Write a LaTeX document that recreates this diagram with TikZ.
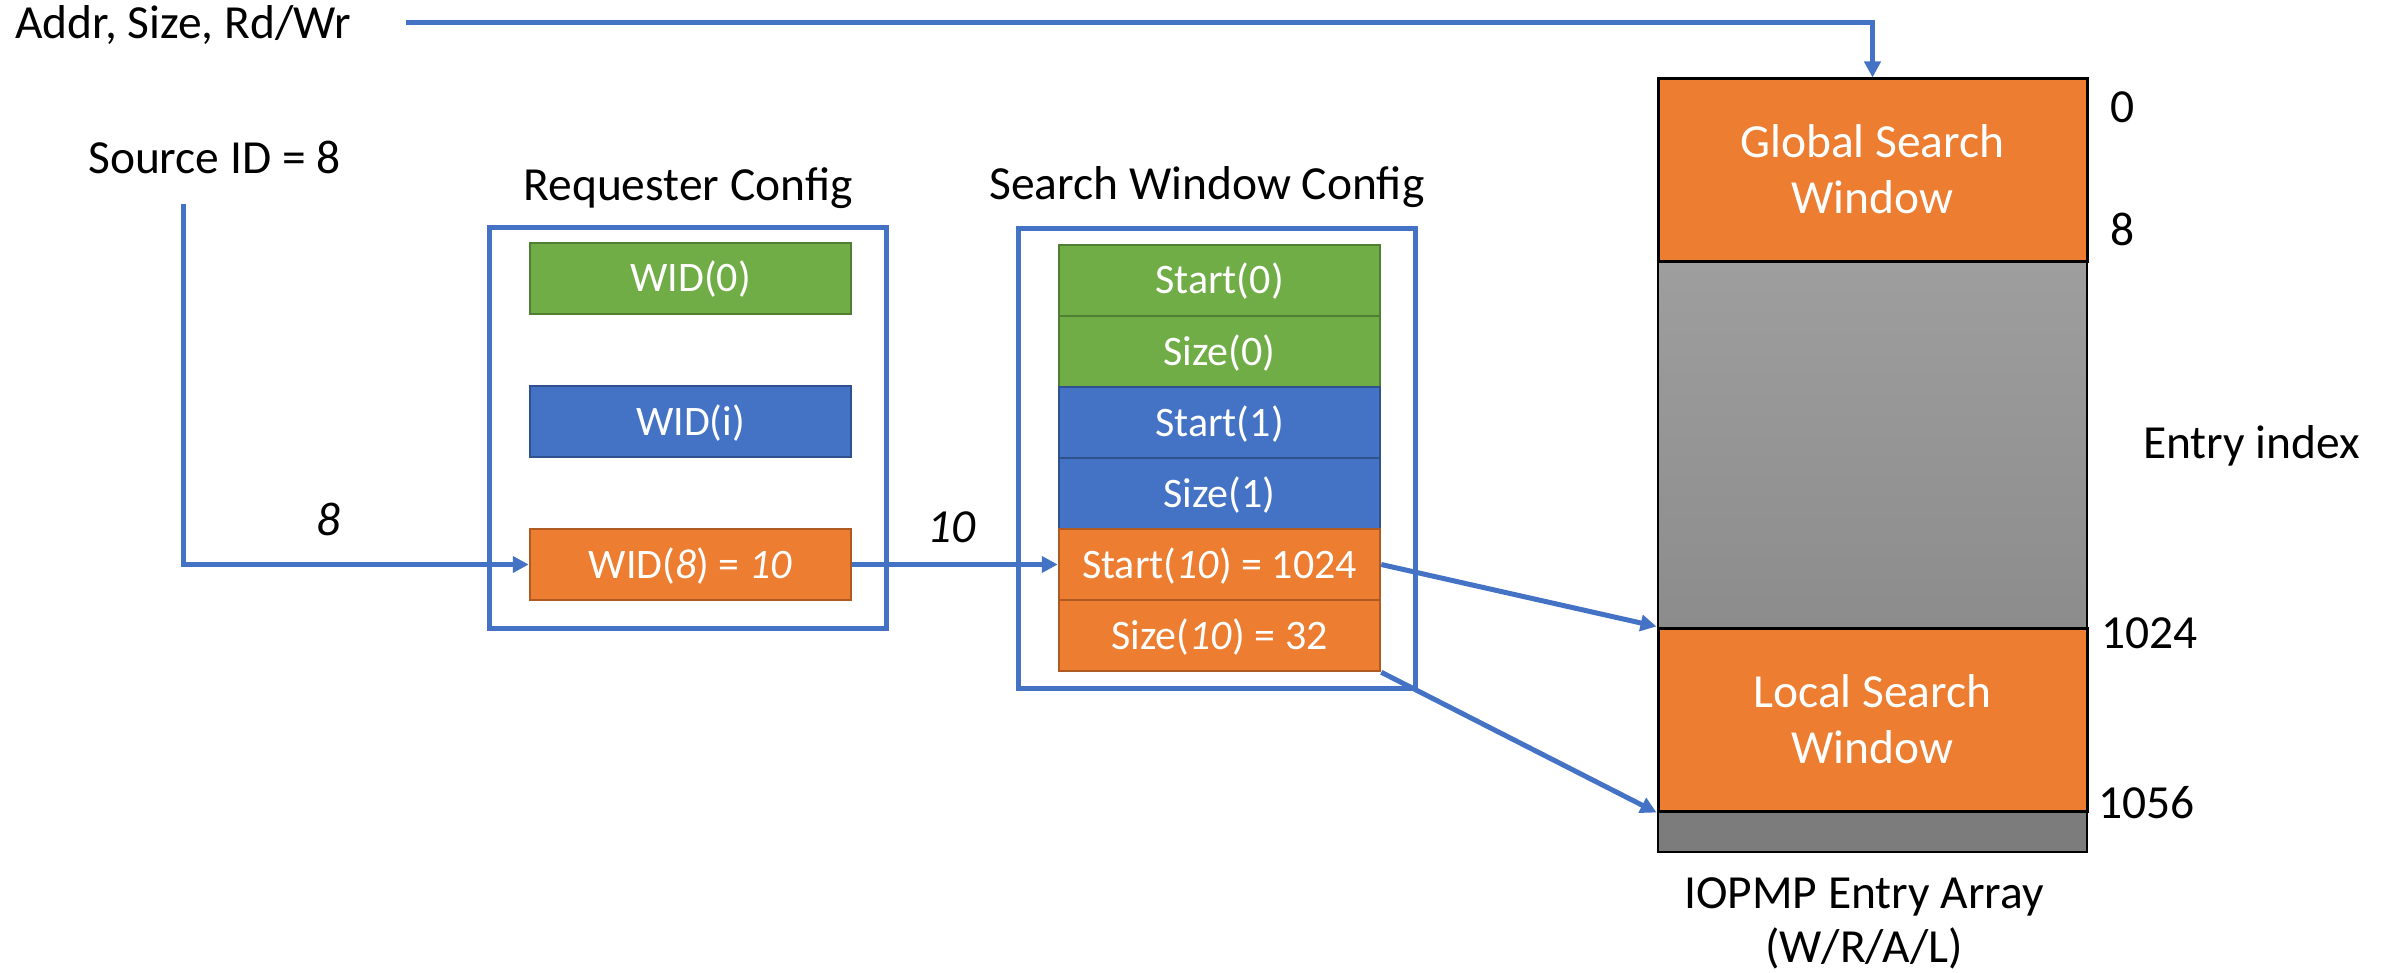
\documentclass[tikz,border=0pt]{standalone}
\usepackage{fontspec}
\setmainfont{Carlito}
\usetikzlibrary{arrows.meta}
\definecolor{acOrange}{HTML}{ED7D31}
\definecolor{acOrangeDk}{HTML}{AE5A21}
\definecolor{acGreen}{HTML}{70AD47}
\definecolor{acGreenDk}{HTML}{507E32}
\definecolor{acBlue}{HTML}{4472C4}
\definecolor{acBlueDk}{HTML}{2F528F}
\definecolor{grayTop}{RGB}{158,158,158}
\definecolor{grayBot}{RGB}{140,140,140}
\definecolor{grayStrip}{RGB}{124,124,124}
\tikzset{
  lbl/.style={inner sep=0pt, font=\fontsize{47.5}{56}\selectfont},
  celltxt/.style={inner sep=0pt, text=white, font=\fontsize{42}{50}\selectfont, text height=27pt, text depth=0pt},
  cellbox/.style={celltxt, draw, line width=2.5pt, minimum width=321pt, minimum height=71pt},
  orangecell/.style={cellbox, fill=acOrange, draw=acOrangeDk},
  greencell/.style={cellbox, fill=acGreen, draw=acGreenDk},
  bluecell/.style={cellbox, fill=acBlue, draw=acBlueDk},
  cfgbox/.style={draw=acBlue, line width=5pt, inner sep=0pt},
  conn/.style={draw=acBlue, line width=5pt},
  connarrow/.style={conn, -{Triangle[length=16pt,width=16pt]}},
  winbox/.style={draw=black, line width=3pt, fill=acOrange, inner sep=0pt, minimum width=429pt},
  wintxt/.style={inner sep=0pt, text=white, font=\fontsize{47.5}{56}\selectfont},
}
\begin{document}
\begin{tikzpicture}[x=1pt,y=-1pt]
\useasboundingbox (0,0) rectangle (2389,973);

% ---- IOPMP entry array ----
\fill[top color=grayTop, bottom color=grayBot] (1658,262) rectangle (2087,628);
\fill[grayStrip] (1658,811) rectangle (2087,852);
\node[draw=black, line width=2pt, minimum width=429pt, minimum height=773pt, inner sep=0pt] (arr) at (1872.5,465.5) {};
\node[winbox, minimum height=183pt] (gsw) at (1872.5,170.5) {};
\node[winbox, minimum height=183pt] (lsw) at (1872.5,719.5) {};
\node[wintxt, anchor=base] (gsw1) at (1872.5,158) {Global Search};
\node[wintxt, anchor=base] (gsw2) at (1872.5,214) {Window};
\node[wintxt, anchor=base] (lsw1) at (1872.5,707) {Local Search};
\node[wintxt, anchor=base] (lsw2) at (1872.5,763) {Window};

\node[lbl, anchor=base west] (i0) at (2110,123) {0};
\node[lbl, anchor=base west] (i8) at (2110,246) {8};
\node[lbl, anchor=base west] (ientry) at (2143,458) {Entry index};
\node[lbl, anchor=base west] (i1024) at (2101,648) {1024};
\node[lbl, anchor=base west] (i1056) at (2098,818) {1056};
\node[lbl, anchor=base] (arrname1) at (1864,908) {IOPMP Entry Array};
\node[lbl, anchor=base] (arrname2) at (1864,962) {(W/R/A/L)};

% ---- Requester config ----
\node[lbl, anchor=base] (rctitle) at (688,201) {Requester Config};
\node[cfgbox, minimum width=397pt, minimum height=400pt] (rc) at (687.5,428) {};
\node[greencell] (wid0) at (690.5,278.5) {WID(0)};
\node[bluecell] (widi) at (690.5,421.5) {WID(i)};
\node[orangecell] (wid8) at (690.5,564.5) {WID(\textit{8}) = \textit{10}};

% ---- Search window config ----
\node[lbl, anchor=base] (swtitle) at (1207,200) {Search Window Config};
\node[cfgbox, minimum width=397pt, minimum height=459pt] (swc) at (1216.5,458.5) {};
\node[greencell] (st0) at (1219.5,280.5) {Start(0)};
\node[greencell] (sz0) at (1219.5,351.5) {Size(0)};
\node[bluecell] (st1) at (1219.5,422.5) {Start(1)};
\node[bluecell] (sz1) at (1219.5,493.5) {Size(1)};
\node[orangecell] (st10) at (1219.5,564.5) {Start(\textit{10}) = 1024};
\node[orangecell] (sz10) at (1219.5,635.5) {Size(\textit{10}) = 32};

% ---- inputs ----
\node[lbl, anchor=base west] (addr) at (15,39) {Addr, Size, Rd/Wr};
\node[lbl, anchor=base west] (srcid) at (88,174) {Source ID = 8};
\coordinate (addrstart) at (406,23);
\coordinate (srcstart) at (183,204);

\node[lbl, anchor=base] (lab8) at (329,535) {\textit{8}};
\node[lbl, anchor=base] (lab10) at (952,542) {\textit{10}};

% ---- connectors ----
\draw[connarrow] (addrstart) -| (gsw.north);
\draw[connarrow] (srcstart) |- (wid8.west);
\draw[connarrow] (wid8.east) -- (st10.west);
\draw[connarrow] (st10.east) -- (lsw.north west);
\draw[connarrow] (sz10.south east) -- (lsw.south west);
\end{tikzpicture}
\end{document}
